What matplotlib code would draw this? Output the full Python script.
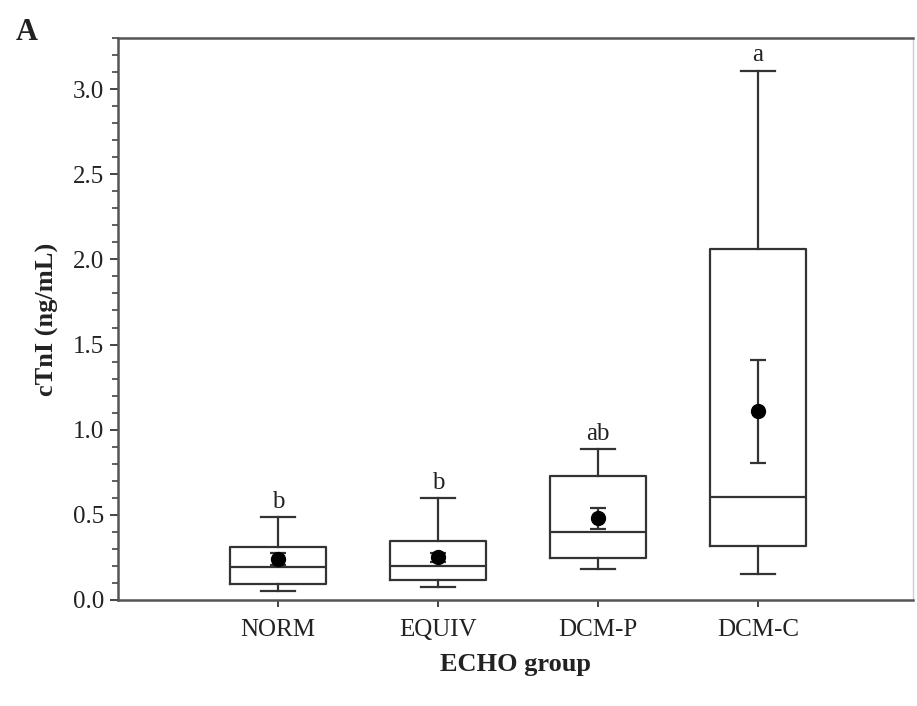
import matplotlib
matplotlib.use("Agg")
import matplotlib.pyplot as plt
from matplotlib.ticker import MultipleLocator, FormatStrFormatter

plt.rcParams['font.family'] = ['Liberation Serif', 'DejaVu Serif']

# cTnI summary per echo group (ng/mL)
categories = ["NORM", "EQUIV", "DCM-P", "DCM-C"]
whisker_low = [0.05, 0.078, 0.18, 0.154]
q1 = [0.092, 0.117, 0.245, 0.317]
median = [0.194, 0.20, 0.397, 0.607]
q3 = [0.31, 0.348, 0.728, 2.06]
whisker_high = [0.486, 0.597, 0.885, 3.108]
means = [0.24, 0.25, 0.48, 1.107]
mean_err = [0.035, 0.028, 0.063, 0.30]
letters = ["b", "b", "ab", "a"]

line_col = "#333333"

fig = plt.figure(figsize=(9.17, 7.06), dpi=100)
ax = fig.add_axes([118 / 917, 106 / 706, 795 / 917, 562 / 706])

positions = list(range(1, len(categories) + 1))
stats = []
for i, name in enumerate(categories):
    stats.append(dict(label=name, whislo=whisker_low[i], q1=q1[i], med=median[i],
                      q3=q3[i], whishi=whisker_high[i], fliers=[]))

lp = dict(color=line_col, linewidth=1.6)
ax.bxp(stats, positions=positions, widths=0.6, capwidths=0.21, showfliers=False,
       boxprops=lp, whiskerprops=lp, capprops=lp, medianprops=lp)

ax.errorbar(positions, means, yerr=mean_err, fmt="o", color="black", markersize=10,
            ecolor=line_col, elinewidth=1.6, capsize=6, capthick=1.6, zorder=5)

for x, top, lab in zip(positions, whisker_high, letters):
    ax.text(x, top + 0.025, lab, ha="center", va="bottom", fontsize=18, color="#222222")

ax.set_xlim(0, 4.97)
ax.set_ylim(0, 3.3)
ax.set_xticks(positions)
ax.set_xticklabels(categories)
ax.yaxis.set_major_locator(MultipleLocator(0.5))
ax.yaxis.set_minor_locator(MultipleLocator(0.1))
ax.yaxis.set_major_formatter(FormatStrFormatter("%.1f"))

ax.tick_params(axis="both", which="major", labelsize=18, colors="#444444",
               labelcolor="#222222", width=1.4, length=6, direction="out")
ax.tick_params(axis="y", which="minor", colors="#444444", width=1.2, length=4,
               direction="out")
ax.tick_params(axis="x", which="major", length=5, pad=9)
ax.tick_params(axis="y", which="major", pad=4)

for side in ["left", "bottom", "top"]:
    ax.spines[side].set_color("#555555")
    ax.spines[side].set_linewidth(1.8)
ax.spines["right"].set_color("#cccccc")
ax.spines["right"].set_linewidth(1.0)

ax.set_xlabel("ECHO group", fontsize=19, fontweight="bold", color="#222222", labelpad=8)
ax.set_ylabel("cTnI (ng/mL)", fontsize=19, fontweight="bold", color="#222222", labelpad=10)

fig.text(16 / 917, 1 - 33 / 706, "A", fontsize=22, fontweight="bold", color="#222222",
         ha="left", va="center")

fig.savefig("out.png", dpi=100, facecolor="white")
